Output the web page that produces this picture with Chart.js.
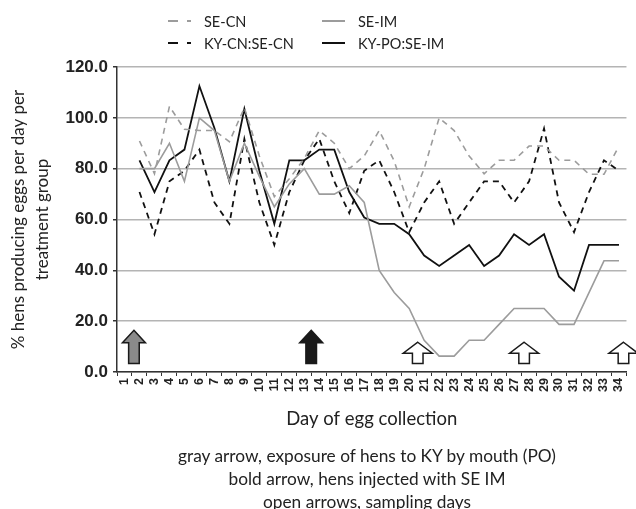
<!DOCTYPE html>
<html>
<head>
<meta charset="utf-8">
<script src="https://cdn.jsdelivr.net/npm/chart.js@4.4.1/dist/chart.umd.min.js"></script>
<style>
  body { margin: 0; background: #fff; }
  #wrap { position: relative; width: 636px; height: 509px; font-family: Lato, "Open Sans", sans-serif; color: #222; }
  #eggChart { position: absolute; left: 0; top: 0; }
  .leg { position: absolute; height: 20px; display: flex; align-items: center; font-size: 14.5px; white-space: nowrap; }
  .leg svg { margin-right: 13px; }
  #notes { position: absolute; left: 117px; width: 500px; top: 444px; text-align: center; font-size: 17.3px; line-height: 23px; }
</style>
</head>
<body>
<div id="wrap">
  <canvas id="eggChart" width="636" height="509"></canvas>
  <div id="legend"></div>
  <div id="notes">
    gray arrow, exposure of hens to KY by mouth (PO)<br>
    bold arrow, hens injected with SE IM<br>
    open arrows, sampling days
  </div>
</div>
<script>
// Day of egg collection (no collection recorded on day 1)
const days = [];
for (let d = 1; d <= 34; d++) days.push(String(d));

// % hens producing eggs per day, per treatment group
const seCn = [null, 90.9, 78, 104.5, 95.5, 95, 95, 90.6, 104, 85, 69,
  76, 84, 95, 90, 80, 85, 95, 83, 65, 80, 100, 95, 85, 78,
  83.3, 83.3, 88.9, 88.9, 83.3, 83.3, 77.8, 77.8, 88.9];
const seIm = [null, 80, 80, 90, 75, 100, 95, 75, 90, 77, 65,
  74, 80, 70, 70, 73.3, 66.7, 40, 31.3, 25, 12.5, 6.25, 6.25, 12.5, 12.5,
  18.75, 25, 25, 25, 18.75, 18.75, 31.25, 43.75, 43.75];
const kyCnSeCn = [null, 70.8, 54.2, 75, 79.2, 87.5, 66.7, 58.3, 91.7, 66.7, 50,
  70.8, 83.3, 91.7, 75, 62.5, 79.2, 83.3, 70.8, 55, 66.7, 75, 58.3, 66.7, 75,
  75, 66.7, 75, 95.8, 66.7, 55, 70.8, 83.3, 79.2];
const kyPoSeIm = [null, 83.3, 70.8, 83.3, 87.5, 112.5, 96, 75, 103.5, 79.2, 58.3,
  83.3, 83.3, 87.5, 87.5, 70.8, 60.8, 58.3, 58.3, 54.2, 45.8, 41.7, 45.8, 50, 41.7,
  45.8, 54.2, 50, 54.2, 37.5, 32, 50, 50, 50];

// arrows under the lines: position in days, kind, tip height (y units)
const arrowDays = [1.63, 13.46, 20.57, 27.67, 34.3];
const arrowKinds = ["gray", "bold", "open", "open", "open"];
const arrowTops = [16.4, 16.4, 11.7, 11.7, 11.7];
const arrowBase = 3.3;

const GRAY = "#9c9c9c";
const BLACK = "#111111";

const series = [
  { label: "SE-CN", data: seCn, color: GRAY, dash: [6, 5] },
  { label: "SE-IM", data: seIm, color: GRAY, dash: [] },
  { label: "KY-CN:SE-CN", data: kyCnSeCn, color: BLACK, dash: [6, 5] },
  { label: "KY-PO:SE-IM", data: kyPoSeIm, color: BLACK, dash: [] },
];

// legend laid out in two columns like the original
const legendPos = [[168, 11], [322, 11], [168, 33], [322, 33]];
const legendEl = document.getElementById("legend");
series.forEach((s, i) => {
  const item = document.createElement("div");
  item.className = "leg";
  item.style.left = legendPos[i][0] + "px";
  item.style.top = legendPos[i][1] + "px";
  const dash = s.dash.length ? 'stroke-dasharray="10,9"' : "";
  item.innerHTML =
    '<svg width="23" height="4"><line x1="0" y1="2" x2="23" y2="2" stroke="' +
    s.color + '" stroke-width="2" ' + dash + "/></svg><span>" + s.label + "</span>";
  legendEl.appendChild(item);
});

// draws the treatment / sampling arrows on the scales
const arrowPlugin = {
  id: "arrows",
  afterDatasetsDraw(chart) {
    const { ctx, scales } = chart;
    const x = scales.x, y = scales.y;
    arrowDays.forEach((d, i) => {
      const kind = arrowKinds[i];
      const cx = x.getPixelForValue(d - 1);
      const top = y.getPixelForValue(arrowTops[i]);
      const bot = y.getPixelForValue(arrowBase);
      const headW = kind === "open" ? 14.5 : 11.5;
      const shaftW = 5.3;
      const headH = kind === "open" ? 11 : 12.5;
      ctx.save();
      ctx.beginPath();
      ctx.moveTo(cx, top);
      ctx.lineTo(cx + headW, top + headH);
      ctx.lineTo(cx + shaftW, top + headH);
      ctx.lineTo(cx + shaftW, bot);
      ctx.lineTo(cx - shaftW, bot);
      ctx.lineTo(cx - shaftW, top + headH);
      ctx.lineTo(cx - headW, top + headH);
      ctx.closePath();
      ctx.fillStyle = kind === "gray" ? "#8a8a8a" : kind === "bold" ? "#1a1a1a" : "#ffffff";
      ctx.fill();
      ctx.lineWidth = 1.5;
      ctx.strokeStyle = "#1a1a1a";
      ctx.stroke();
      ctx.restore();
    });
  },
};

new Chart(document.getElementById("eggChart"), {
  type: "line",
  data: {
    labels: days,
    datasets: series.map((s) => ({
      label: s.label,
      data: s.data,
      borderColor: s.color,
      borderDash: s.dash,
      borderWidth: s.color === BLACK ? 1.8 : 1.6,
      pointRadius: 0,
      tension: 0,
      fill: false,
    })),
  },
  options: {
    responsive: false,
    animation: false,
    devicePixelRatio: 1,
    layout: { padding: { top: 67, right: 2, bottom: 77, left: 0 } },
    plugins: {
      legend: { display: false },
      tooltip: { enabled: false },
    },
    scales: {
      x: {
        type: "category",
        offset: true,
        grid: {
          offset: true,
          drawOnChartArea: false,
          drawTicks: true,
          tickLength: 4,
          color: "#333",
        },
        border: { color: "#333", width: 1.5 },
        ticks: {
          autoSkip: false,
          minRotation: 90,
          maxRotation: 90,
          padding: 2,
          color: "#222",
          font: { family: "Liberation Sans", size: 12.5, weight: "bold" },
        },
        title: {
          display: true,
          text: "Day of egg collection",
          color: "#222",
          font: { family: "Lato", size: 18.5, lineHeight: 1.2 },
          padding: { top: 0, bottom: 2 },
        },
        afterFit(scale) {
          scale.height = 60;
        },
      },
      y: {
        min: 0,
        max: 120,
        grid: { color: "#b4b4b4", lineWidth: 1.5, tickColor: "#333", tickLength: 4 },
        border: { color: "#333", width: 1.5 },
        ticks: {
          stepSize: 20,
          padding: 5,
          color: "#222",
          font: { family: "Liberation Sans", size: 17, weight: "bold" },
          callback: (v) => v.toFixed(1),
        },
        title: {
          display: true,
          text: ["% hens producing eggs per day per", "treatment group"],
          color: "#222",
          font: { family: "Lato", size: 17, lineHeight: 1.4 },
          padding: { top: 7, bottom: 0 },
        },
        afterFit(scale) {
          scale.width = 117;
        },
      },
    },
  },
  plugins: [arrowPlugin],
});
</script>
</body>
</html>
